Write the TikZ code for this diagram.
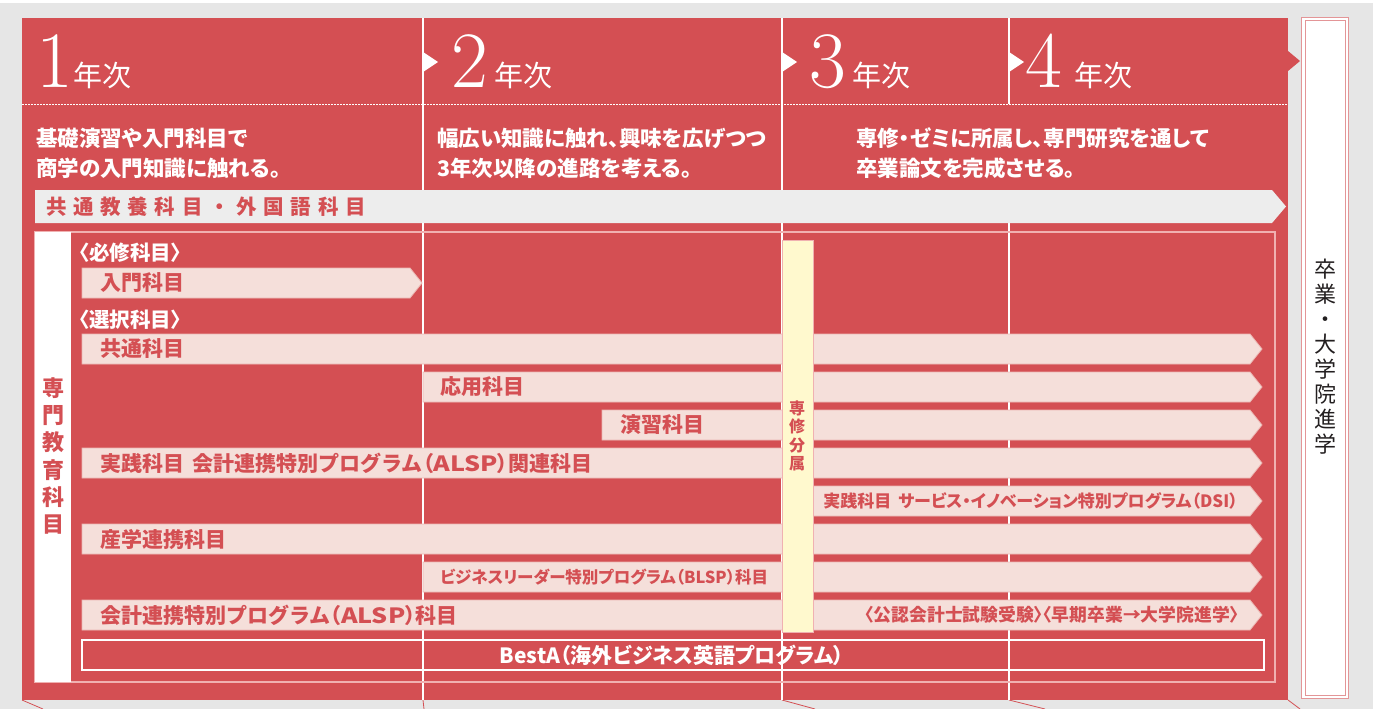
\documentclass[tikz,border=0pt]{standalone}
\usepackage{fontspec}
\newfontfamily\jp[RawFeature=+palt]{Noto Sans CJK JP}
\newfontfamily\jpn{Noto Sans CJK JP}
\definecolor{redc}{HTML}{D44F53}
\definecolor{bgc}{HTML}{E6E6E6}
\definecolor{grayfill}{HTML}{EDEDED}
\definecolor{barfill}{HTML}{F5DFDA}
\definecolor{barline}{HTML}{EBB7B3}
\definecolor{yellowc}{HTML}{FFF9CE}
\definecolor{framec}{HTML}{F0B1B1}
\definecolor{boxline}{HTML}{E39597}
\definecolor{textdark}{HTML}{231F20}
\newcommand\abar[4]{% x1, y1, xtip, y2
  \filldraw[fill=barfill,draw=barline,line width=0.8pt] (#1,#2) -- (#3-12,#2) -- (#3,{(#2+#4)/2}) -- (#3-12,#4) -- (#1,#4) -- cycle;}
\newcommand\alsp{{\jp （}\scalebox{1.2}[1]{ALSP}{\jp ）}}
\begin{document}
\begin{tikzpicture}[x=1pt,y=-1pt,
  colline/.style={white,line width=1.3pt},
  digit/.style={anchor=base,text=white,inner sep=0pt,font=\fontsize{80}{80}\selectfont},
  nenji/.style={anchor=base west,text=white,inner sep=0pt,font=\jpn\fontsize{29}{29}\selectfont},
  desc/.style={anchor=west,text=white,inner sep=0pt,font=\jp\bfseries\fontsize{21.5}{25}\selectfont},
  head/.style={anchor=west,text=white,inner sep=0pt,font=\jp\bfseries\fontsize{20.5}{24}\selectfont},
  bartext/.style={anchor=west,text=redc,inner sep=0pt,font=\jpn\bfseries\fontsize{21}{25}\selectfont},
  smalltext/.style={text=redc,inner sep=0pt,font=\jp\bfseries\fontsize{17}{20}\selectfont},
  tri/.style={fill=white}]
\useasboundingbox (0,0) rectangle (1373,709);
\fill[bgc] (0,0) rectangle (1373,709);
\fill[white] (0,0) rectangle (1373,3);
% main panel
\fill[redc] (22,18) rectangle (1288,700);
\fill[redc] (1288,51) -- (1300,61) -- (1288,71) -- cycle;
% bottom slanted lines
\draw[redc,line width=0.8pt] (22,700) -- (43,709);
\draw[redc,line width=0.8pt] (423,700) -- (424,709);
\draw[redc,line width=0.8pt] (782,700) -- (815,709);
\draw[redc,line width=0.8pt] (1009,700) -- (1045,709);
\draw[redc,line width=0.8pt] (1288,700) -- (1300,709);
% column lines
\draw[colline] (423,18) -- (423,700);
\draw[colline] (782,18) -- (782,700);
\draw[colline] (1009,18) -- (1009,104);
\draw[colline] (1009,223) -- (1009,700);
% dotted line
\draw[white,line width=1pt,dash pattern=on 1.5pt off 1.5pt] (22,104) -- (1288,104);
% triangles
\fill[tri] (423,52) -- (438,62) -- (423,72) -- cycle;
\fill[tri] (782,52) -- (797,62) -- (782,72) -- cycle;
\fill[tri] (1009,52) -- (1024,62) -- (1009,72) -- cycle;
% year headers
\node[digit] (n1) at (55,88) {1};
\node[nenji] (j1) at (73,86) {年次};
\node[digit] (n2) at (470,88) {2};
\node[nenji] (j2) at (494,86) {年次};
\node[digit] (n3) at (828,88) {3};
\node[nenji] (j3) at (852,86) {年次};
\node[digit] (n4) at (1044,88) {4};
\node[nenji] (j4) at (1074,86) {年次};
% descriptions
\node[desc] (d1a) at (36,138) {基礎演習や入門科目で};
\node[desc] (d1b) at (36,168) {商学の入門知識に触れる。};
\node[desc] (d2a) at (437,138) {幅広い知識に触れ、興味を広げつつ};
\node[desc] (d2b) at (437,168) {3年次以降の進路を考える。};
\node[desc] (d3a) at (856,138) {専修・ゼミに所属し、専門研究を通して};
\node[desc] (d3b) at (856,168) {卒業論文を完成させる。};
% general education bar
\fill[grayfill] (35,190) -- (1272,190) -- (1286,206.5) -- (1272,223) -- (35,223) -- cycle;
\node[anchor=west,text=redc,inner sep=0pt,font=\jpn\bfseries\fontsize{20.5}{24}\selectfont] (gen) at (46,207)
  {共\hspace{6.7pt}通\hspace{6.7pt}教\hspace{6.7pt}養\hspace{6.7pt}科\hspace{6.7pt}目\hspace{6.7pt}・\hspace{6.7pt}外\hspace{6.7pt}国\hspace{6.7pt}語\hspace{6.7pt}科\hspace{6.7pt}目};
% frame and left box
\draw[framec,line width=1.2pt] (35,232) rectangle (1275,682);
\fill[white] (35,232) rectangle (71,682);
\node[text=redc,inner sep=0pt,align=center,font=\jpn\bfseries\fontsize{22}{27.2}\selectfont] (senmon) at (53,456) {専\\門\\教\\育\\科\\目};
% headings
\node[head] (h1) at (79,253) {〈必修科目〉};
\node[head] (h2) at (79,320) {〈選択科目〉};
% bars
\abar{82}{268}{422}{298}
\abar{82}{334}{1262}{364}
\abar{423}{372}{1262}{402}
\abar{602}{410}{1262}{440}
\abar{82}{448}{1262}{478}
\abar{813}{486}{1262}{516}
\abar{82}{524}{1262}{554}
\abar{423}{562}{1262}{592}
\abar{82}{600}{1262}{630}
\node[bartext] (b1) at (100,283) {入門科目};
\node[bartext] (b2) at (100,349) {共通科目};
\node[bartext] (b3) at (440,387) {応用科目};
\node[bartext] (b4) at (620,425) {演習科目};
\node[bartext] (b5) at (100,463) {実践科目\hspace{0.4em}会計連携特別プログラム\alsp 関連科目};
\node[smalltext,anchor=east] (b6) at (1238,501) {実践科目\hspace{0.4em}サービス・イノベーション特別プログラム（DSI）};
\node[bartext] (b7) at (100,539) {産学連携科目};
\node[smalltext,anchor=west,font=\jp\bfseries\fontsize{16.5}{20}\selectfont] (b8) at (440,577) {ビジネスリーダー特別プログラム（BLSP）科目};
\node[bartext] (b9) at (100,615) {会計連携特別プログラム\alsp 科目};
\node[smalltext,anchor=east,font=\jp\bfseries\fontsize{17.8}{20}\selectfont] (b10) at (1239,615) {〈公認会計士試験受験〉〈早期卒業→大学院進学〉};
% yellow bar
\filldraw[fill=yellowc,draw=framec,line width=0.8pt] (782,240) rectangle (813,632);
\node[text=redc,inner sep=0pt,align=center,font=\jpn\bfseries\fontsize{16}{18.3}\selectfont] (senshu) at (797,436) {専\\修\\分\\属};
% BestA
\draw[white,line width=1.2pt] (82,640) rectangle (1264,670);
\node[text=white,inner sep=0pt,font=\jp\bfseries\fontsize{21}{24}\selectfont] (besta) at (672,655) {BestA（海外ビジネス英語プログラム）};
% right box
\fill[white] (1301,17) rectangle (1349,699);
\draw[boxline,line width=1pt] (1301.5,17.5) rectangle (1348.5,698.5);
\draw[boxline,line width=1pt] (1305,21) rectangle (1345,695);
\node[text=textdark,inner sep=0pt,align=center,font=\jpn\fontsize{22}{25}\selectfont] (grad) at (1325,357) {卒\\業\\・\\大\\学\\院\\進\\学};
\end{tikzpicture}
\end{document}
